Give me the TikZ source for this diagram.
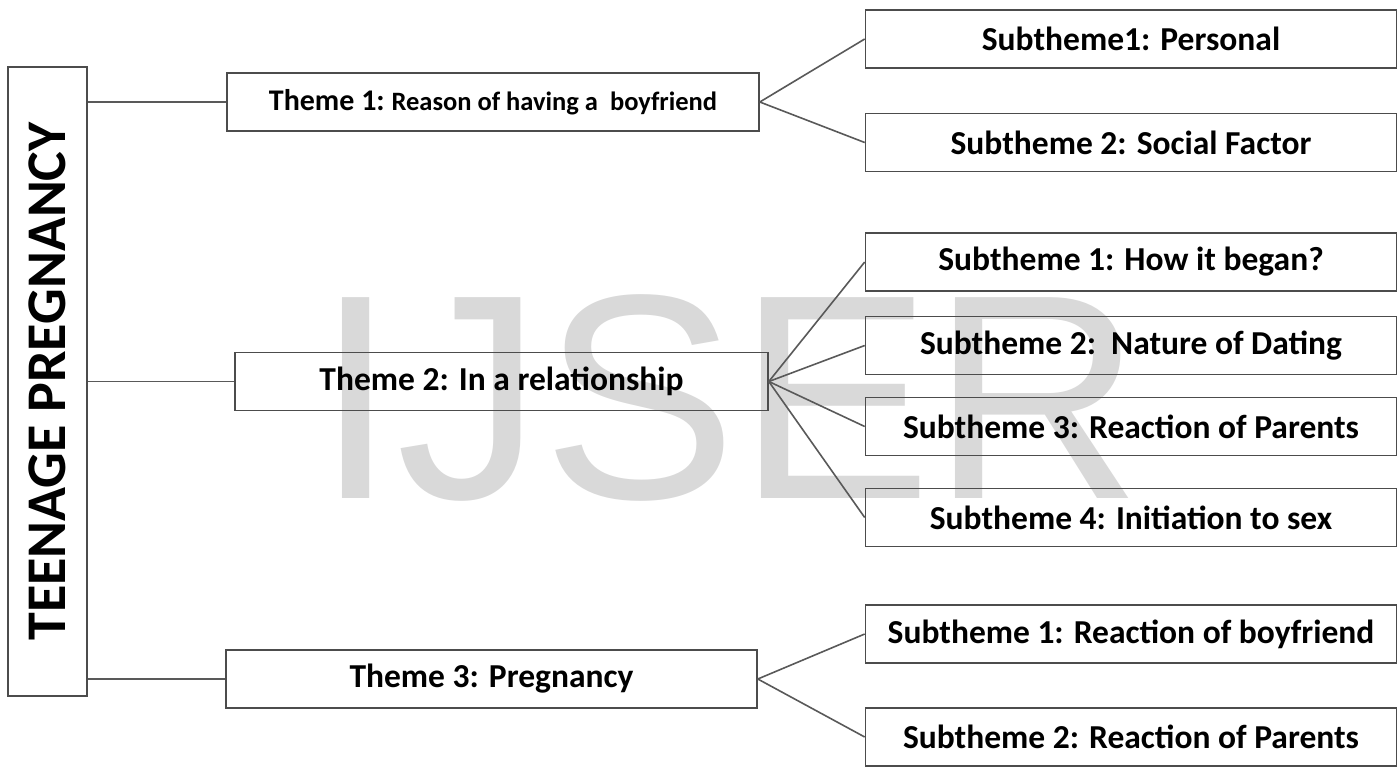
\documentclass[tikz,border=0pt]{standalone}
\usepackage{fontspec}
\setmainfont{Carlito}
\newfontfamily\wmfont{Liberation Sans}
\usepackage{tikz}
\usetikzlibrary{positioning}

\begin{document}
\begin{tikzpicture}[
      x=1pt, y=-1pt,
      box/.style={rectangle, draw=black!70, line width=1.6pt, minimum width=531pt, minimum height=58pt, inner sep=0pt, align=center, font=\fontsize{33.5}{38}\selectfont\bfseries},
      link/.style={draw=black!65, line width=1.6pt}
    ]
      \useasboundingbox (0,0) rectangle (1399,766);
      % watermark
      \node[text=black!15, font=\wmfont\fontsize{292}{292}\selectfont] (wm) at (729,398) {IJSER};

      \node[box, rotate=90, minimum width=629pt, minimum height=79pt, font=\fontsize{56}{62}\selectfont\bfseries] (root) at (47.5,381.5) {TEENAGE PREGNANCY};

      % themes
      \node[box, minimum width=532pt] (t1) at (493,102) {\fontsize{30}{34}\selectfont Theme 1:\ \fontsize{26.5}{30}\selectfont Reason of having a\ \ boyfriend};
      \node[box, minimum width=533pt] (t2) at (501.5,381.5) {Theme 2: In a relationship};
      \node[box] (t3) at (491.5,679) {Theme 3: Pregnancy};

      % subthemes
      \node[box] (s11) at (1131,39) {Subtheme1: Personal};
      \node[box] (s12) at (1131,142.5) {Subtheme 2: Social Factor};
      \node[box] (s21) at (1131,262) {Subtheme 1: How it began?};
      \node[box] (s22) at (1131,345.5) {Subtheme 2:\ \ Nature of Dating};
      \node[box] (s23) at (1131,426.5) {Subtheme 3: Reaction of Parents};
      \node[box] (s24) at (1131,517.5) {Subtheme 4: Initiation to sex};
      \node[box] (s31) at (1131,634) {Subtheme 1: Reaction of boyfriend};
      \node[box] (s32) at (1131,737) {Subtheme 2: Reaction of Parents};

      \foreach \t in {t1,t2,t3}
        \draw[link] (\t.west -| root.south) -- (\t.west);
      \foreach \s in {s11,s12}
        \draw[link] (t1.east) -- (\s.west);
      \foreach \s in {s21,s22,s23,s24}
        \draw[link] (t2.east) -- (\s.west);
      \foreach \s in {s31,s32}
        \draw[link] (t3.east) -- (\s.west);
    \end{tikzpicture}
\end{document}
